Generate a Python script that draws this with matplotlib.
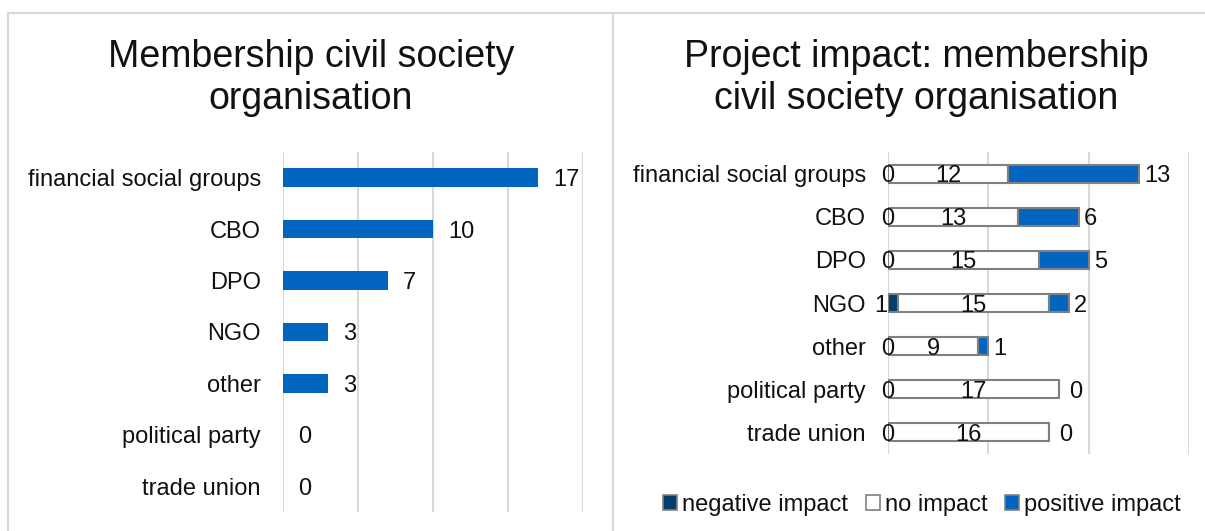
"""
Membership in civil society organisations: counts per organisation type,
and project impact split into negative / no / positive.
"""

import matplotlib
matplotlib.use("Agg")
import matplotlib.pyplot as plt
from matplotlib.lines import Line2D
from matplotlib.patches import Patch

plt.rcParams["font.family"] = ["Liberation Sans", "DejaVu Sans"]

# --- data ---------------------------------------------------------------
categories = ["financial social groups", "CBO", "DPO", "NGO", "other",
              "political party", "trade union"]
membership = [17, 10, 7, 3, 3, 0, 0]

negative_impact = [0, 0, 0, 1, 0, 0, 0]
no_impact = [12, 13, 15, 15, 9, 17, 16]
positive_impact = [13, 6, 5, 2, 1, 0, 0]

left_title = "Membership civil society\norganisation"
right_title = "Project impact: membership\ncivil society organisation"
legend_labels = ["negative impact", "no impact", "positive impact"]

# --- styling ------------------------------------------------------------
BLUE = "#0365c0"
NAVY = "#033d6b"
GRID = "#d9d9d9"
EDGE = "#808080"
TEXT = "#111111"
FS = 17
VA = "center_baseline"

W, H = 1205, 531
fig = plt.figure(figsize=(W / 100, H / 100), dpi=100)


def fx(px):
    return px / W


def fy(px):
    return 1 - px / H


# panel frames
for xs, ys in [((fx(8), fx(8)), (fy(13), 0)),
               ((fx(613), fx(613)), (fy(13), 0)),
               ((fx(8), 1), (fy(13), fy(13)))]:
    fig.add_artist(Line2D(xs, ys, transform=fig.transFigure,
                          color=GRID, lw=1.5))


def style_axis(ax, xmax, step):
    ax.set_xlim(0, xmax)
    ax.set_xticks(range(0, xmax + 1, step))
    ax.set_ylim(len(categories) - 0.5, -0.5)
    ax.set_yticks(range(len(categories)))
    ax.set_yticklabels(categories, fontsize=FS, color=TEXT)
    ax.tick_params(axis="y", length=0, pad=16)
    ax.tick_params(axis="x", length=0, labelbottom=False)
    ax.grid(axis="x", color=GRID, lw=1.5)
    ax.set_axisbelow(True)
    for s in ax.spines.values():
        s.set_visible(False)


# --- left: membership counts -------------------------------------------
ax1 = fig.add_axes([fx(283), 1 - 512 / H, fx(300), 360 / H])
style_axis(ax1, 20, 5)
ypos = list(range(len(categories)))
ax1.barh(ypos, membership, height=0.36, color=BLUE, lw=0)
for y, v in zip(ypos, membership):
    ax1.annotate(str(v), (v, y), xytext=(15, 0), textcoords="offset pixels",
                 ha="left", va=VA, fontsize=FS, color=TEXT)
fig.text(fx(311), fy(78), left_title, ha="center", va="center",
         fontsize=27, color=TEXT, linespacing=1.22)

# --- right: project impact (stacked) -----------------------------------
ax2 = fig.add_axes([fx(888), 1 - 454 / H, fx(301), 302 / H])
style_axis(ax2, 30, 10)
bh = 0.42
ax2.barh(ypos, negative_impact, height=bh, color=NAVY,
         edgecolor=EDGE, lw=1.5)
ax2.barh(ypos, no_impact, left=negative_impact, height=bh, color="white",
         edgecolor=EDGE, lw=1.5)
starts = [n + m for n, m in zip(negative_impact, no_impact)]
ax2.barh(ypos, positive_impact, left=starts, height=bh, color=BLUE,
         edgecolor=EDGE, lw=1.5)

for y, n, m, p in zip(ypos, negative_impact, no_impact, positive_impact):
    if n:
        ax2.annotate(str(n), (0, y), xytext=(-1, 0), textcoords="offset pixels",
                     ha="right", va=VA, fontsize=FS, color=TEXT)
    else:
        ax2.text(0, y, str(n), ha="center", va=VA, fontsize=FS, color=TEXT)
    ax2.text(n + m / 2, y, str(m), ha="center", va=VA, fontsize=FS,
             color=TEXT)
    off = 5 if p else 11
    ax2.annotate(str(p), (n + m + p, y), xytext=(off, 0),
                 textcoords="offset pixels", ha="left", va=VA,
                 fontsize=FS, color=TEXT)

fig.text(fx(916), fy(78), right_title, ha="center", va="center",
         fontsize=27, color=TEXT, linespacing=1.22)

handles = [Patch(facecolor=NAVY, edgecolor=EDGE, lw=1.2),
           Patch(facecolor="white", edgecolor=EDGE, lw=1.2),
           Patch(facecolor=BLUE, edgecolor=EDGE, lw=1.2)]
leg = fig.legend(handles, legend_labels, loc="center",
                 bbox_to_anchor=(fx(922), fy(505)), ncol=3, frameon=False,
                 fontsize=FS, handlelength=0.6, handleheight=0.6,
                 handletextpad=0.2, columnspacing=0.75, borderpad=0)
for t in leg.get_texts():
    t.set_color(TEXT)

fig.savefig("out.png", dpi=100)
